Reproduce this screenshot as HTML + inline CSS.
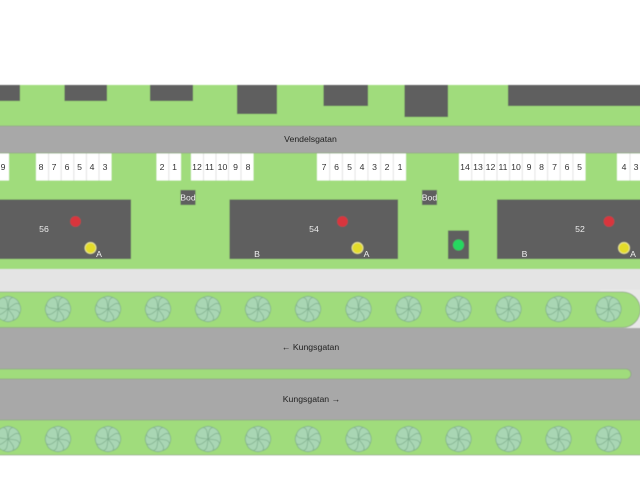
<!DOCTYPE html>
<html>
<head>
<meta charset="utf-8">
<style>
html,body{margin:0;padding:0;background:#fff;width:640px;height:480px;overflow:hidden}
svg{display:block}
text{font-family:"Liberation Sans",sans-serif;font-size:8.7px;text-anchor:middle}
.p text{fill:#333}
.w text{fill:#eee}
</style>
</head>
<body>
<svg width="640" height="480" viewBox="0 0 640 480" xmlns="http://www.w3.org/2000/svg">
<defs>
<filter id="b" x="-2%" y="-2%" width="104%" height="104%"><feGaussianBlur stdDeviation="0.45"/></filter>
<g id="pet"><path d="M0 0C-3-4-7.500-8-4.800-11.500Q0-14 4.800-11.500C7.500-8 3-4 0 0Z" fill="#a9d6b4" stroke="#7cab8a" stroke-width=".7"/></g>
<g id="t">
<circle r="12.500" fill="#a9d6b4"/>
<use href="#pet"/><use href="#pet" transform="rotate(45)"/><use href="#pet" transform="rotate(90)"/><use href="#pet" transform="rotate(135)"/><use href="#pet" transform="rotate(180)"/><use href="#pet" transform="rotate(225)"/><use href="#pet" transform="rotate(270)"/><use href="#pet" transform="rotate(315)"/>
</g>
</defs>
<g filter="url(#b)">
<rect x="-5" y="85" width="650" height="370" fill="#a0dc7c"/>
<rect x="-5" y="126" width="650" height="27" fill="#a8a8a8" stroke="#8fa585" stroke-width=".7"/>
<rect x="-5" y="269" width="650" height="23.500" fill="#e4e4e4"/>
<rect x="600" y="290" width="45" height="38" fill="#e8e8e8"/>
<rect x="-5" y="328" width="650" height="92" fill="#a8a8a8"/>
<path d="M-5 292H622.500A17.500 17.500 0 0 1 622.500 327.500H-5Z" fill="#a0dc7c" stroke="#8fa585" stroke-width=".8"/>
<path d="M-5 369H626A5 5 0 0 1 626 379H-5Z" fill="#a0dc7c" stroke="#8fa585" stroke-width=".8"/>
<rect x="-5" y="420" width="650" height="35" fill="#a0dc7c"/>
<path d="M-5 420H645M-5 455H645" stroke="#8fa585" stroke-width=".8"/>
<rect x="-5" y="455.500" width="650" height="25" fill="#fff"/>

<g fill="#5f5f5f">
<rect x="-5" y="85" width="25" height="16"/>
<rect x="64.500" y="85" width="42.500" height="16"/>
<rect x="150" y="85" width="43" height="16"/>
<rect x="237" y="85" width="40" height="29"/>
<rect x="323.500" y="85" width="44.500" height="21"/>
<rect x="404.500" y="85" width="43.500" height="32"/>
<rect x="508" y="85" width="137" height="21"/>
<rect x="-5" y="199.500" width="136" height="59.500"/>
<rect x="229.500" y="199.500" width="168.500" height="59.500"/>
<rect x="497" y="199.500" width="148" height="59.500"/>
<rect x="448" y="230.500" width="21" height="28.500"/>
<rect x="180.500" y="190" width="15" height="15"/>
<rect x="422" y="190" width="15" height="15"/>
</g>

<g fill="#fff">
<rect x="-5" y="153.500" width="14" height="27"/>
<rect x="36" y="153.500" width="75.500" height="27"/>
<rect x="156.500" y="153.500" width="24.500" height="27"/>
<rect x="191" y="153.500" width="62.500" height="27"/>
<rect x="317" y="153.500" width="89" height="27"/>
<rect x="459" y="153.500" width="126.500" height="27"/>
<rect x="617" y="153.500" width="28" height="27"/>
</g>
<path d="M48.600 153.500v27M61.200 153.500v27M73.800 153.500v27M86.400 153.500v27M99 153.500v27M168.800 153.500v27M203.500 153.500v27M216 153.500v27M228.500 153.500v27M241 153.500v27M329.700 153.500v27M342.400 153.500v27M355.100 153.500v27M367.900 153.500v27M380.600 153.500v27M393.300 153.500v27M471.700 153.500v27M484.300 153.500v27M497 153.500v27M509.600 153.500v27M522.300 153.500v27M534.900 153.500v27M547.600 153.500v27M560.200 153.500v27M572.900 153.500v27M630 153.500v27" stroke="#dcdcdc" stroke-width=".8" fill="none"/>

<use href="#t" x="8" y="309"/><use href="#t" x="58" y="309"/><use href="#t" x="108" y="309"/><use href="#t" x="158" y="309"/><use href="#t" x="208" y="309"/><use href="#t" x="258" y="309"/><use href="#t" x="308" y="309"/><use href="#t" x="358.500" y="309"/><use href="#t" x="408.500" y="309"/><use href="#t" x="458.500" y="309"/><use href="#t" x="508.500" y="309"/><use href="#t" x="558.500" y="309"/><use href="#t" x="608.500" y="309"/>
<use href="#t" x="8" y="439"/><use href="#t" x="58" y="439"/><use href="#t" x="108" y="439"/><use href="#t" x="158" y="439"/><use href="#t" x="208" y="439"/><use href="#t" x="258" y="439"/><use href="#t" x="308" y="439"/><use href="#t" x="358.500" y="439"/><use href="#t" x="408.500" y="439"/><use href="#t" x="458.500" y="439"/><use href="#t" x="508.500" y="439"/><use href="#t" x="558.500" y="439"/><use href="#t" x="608.500" y="439"/>

<g fill="#d9363e">
<circle cx="75.500" cy="221.500" r="5.300"/><circle cx="342.500" cy="221.500" r="5.300"/><circle cx="609" cy="221.500" r="5.300"/>
</g>
<g fill="#e3dc2a" stroke="#f3f0b0" stroke-width=".7">
<circle cx="90.500" cy="248" r="5.500"/><circle cx="357.500" cy="248" r="5.500"/><circle cx="624" cy="248" r="5.500"/>
</g>
<circle cx="458.500" cy="245" r="5.500" fill="#25d860"/>
</g>

<g class="p">
<text x="3" y="170">9</text>
<text x="41" y="170">8</text><text x="54" y="170">7</text><text x="67" y="170">6</text><text x="79.500" y="170">5</text><text x="92" y="170">4</text><text x="105" y="170">3</text>
<text x="162" y="170">2</text><text x="174.500" y="170">1</text>
<text x="197" y="170">12</text><text x="209.500" y="170">11</text><text x="222.500" y="170">10</text><text x="235.500" y="170">9</text><text x="248" y="170">8</text>
<text x="324" y="170">7</text><text x="336.500" y="170">6</text><text x="349.500" y="170">5</text><text x="362" y="170">4</text><text x="374.500" y="170">3</text><text x="387" y="170">2</text><text x="400" y="170">1</text>
<text x="465" y="170">14</text><text x="478" y="170">13</text><text x="490.500" y="170">12</text><text x="503" y="170">11</text><text x="516" y="170">10</text><text x="529" y="170">9</text><text x="541.500" y="170">8</text><text x="554.500" y="170">7</text><text x="567" y="170">6</text><text x="579.500" y="170">5</text>
<text x="624" y="170">4</text><text x="636" y="170">3</text>
<text x="310.500" y="142" style="fill:#222">Vendelsgatan</text>
<text x="310.500" y="350" style="fill:#222">← Kungsgatan</text>
<text x="311.500" y="402" style="fill:#222">Kungsgatan →</text>
</g>
<g class="w">
<text x="44" y="232">56</text><text x="314" y="232">54</text><text x="580" y="232">52</text>
<text x="99" y="257">A</text><text x="366.500" y="257">A</text><text x="633" y="257">A</text>
<text x="257" y="257">B</text><text x="524.500" y="257">B</text>
<text x="188" y="200.500">Bod</text><text x="429.500" y="200.500">Bod</text>
</g>
</svg>
</body>
</html>
